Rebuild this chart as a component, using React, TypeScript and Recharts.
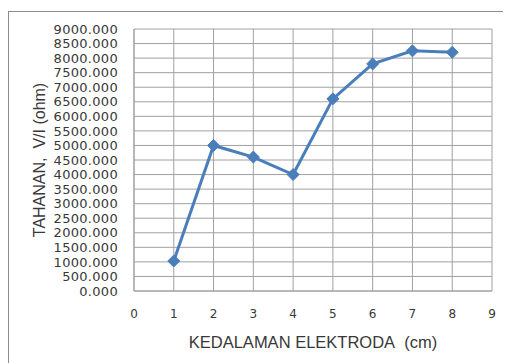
import { LineChart, Line, XAxis, YAxis, CartesianGrid, Label } from 'recharts';

// kedalaman elektroda (cm) vs tahanan V/I (ohm)
const depth = [1, 2, 3, 4, 5, 6, 7, 8];
const resistance = [1030, 5000, 4600, 4000, 6600, 7800, 8250, 8200];

const xTicks = [0, 1, 2, 3, 4, 5, 6, 7, 8, 9];
const yTicks = [
  0, 500, 1000, 1500, 2000, 2500, 3000, 3500, 4000, 4500,
  5000, 5500, 6000, 6500, 7000, 7500, 8000, 8500, 9000,
];

const data = depth.map((d, i) => ({ depth: d, value: resistance[i] }));

const LINE_COLOR = '#4a7ebb';
const GRID_COLOR = '#a0a0a0';
const TEXT_COLOR = '#383838';

const Diamond = (props: any) => {
  const { cx, cy } = props;
  if (cx == null || cy == null) return null;
  const r = 6;
  return (
    <polygon
      key={`d-${cx}-${cy}`}
      points={`${cx},${cy - r} ${cx + r},${cy} ${cx},${cy + r} ${cx - r},${cy}`}
      fill={LINE_COLOR}
      stroke={LINE_COLOR}
    />
  );
};

const App = () => {
  return (
    <div style={{ position: 'relative', width: 503, height: 355, overflow: 'hidden' }}>
      <div
        style={{
          position: 'absolute',
          left: 0,
          top: 3,
          width: 600,
          height: 600,
          borderLeft: '1px solid #8c8c8c',
          borderTop: '1px solid #8c8c8c',
        }}
      />
      <LineChart
        width={503}
        height={355}
        data={data}
        margin={{ top: 21, right: 19, bottom: 12, left: 26 }}
        style={{ position: 'absolute', left: 0, top: 0 }}
      >
        <CartesianGrid stroke={GRID_COLOR} strokeWidth={1} />
        <XAxis
          dataKey="depth"
          type="number"
          domain={[0, 9]}
          ticks={xTicks}
          interval={0}
          height={60}
          tickSize={0}
          tickMargin={18}
          axisLine={{ stroke: GRID_COLOR }}
          tick={{ fill: TEXT_COLOR, fontSize: 12, fontFamily: 'DejaVu Sans' }}
        >
          <Label
            value={'KEDALAMAN ELEKTRODA\u00a0\u00a0(cm)'}
            position="insideBottom"
            offset={3}
            style={{ fill: TEXT_COLOR, fontSize: 16.5, fontFamily: 'Liberation Sans' }}
          />
        </XAxis>
        <YAxis
          type="number"
          domain={[0, 9000]}
          ticks={yTicks}
          interval={0}
          width={100}
          tickSize={0}
          tickMargin={16}
          axisLine={{ stroke: GRID_COLOR }}
          tickFormatter={(v: number) => v.toFixed(3)}
          tick={{ fill: TEXT_COLOR, fontSize: 13, fontFamily: 'DejaVu Sans', letterSpacing: 0.3 }}
        >
          <Label
            value={'TAHANAN,\u00a0\u00a0V/I (ohm)'}
            position="insideLeft"
            angle={-90}
            offset={5}
            style={{ fill: TEXT_COLOR, fontSize: 16, fontFamily: 'Liberation Sans', textAnchor: 'middle' }}
          />
        </YAxis>
        <Line
          type="linear"
          dataKey="value"
          stroke={LINE_COLOR}
          strokeWidth={3}
          dot={Diamond}
          activeDot={false}
          isAnimationActive={false}
        />
      </LineChart>
    </div>
  );
};

export default App;
